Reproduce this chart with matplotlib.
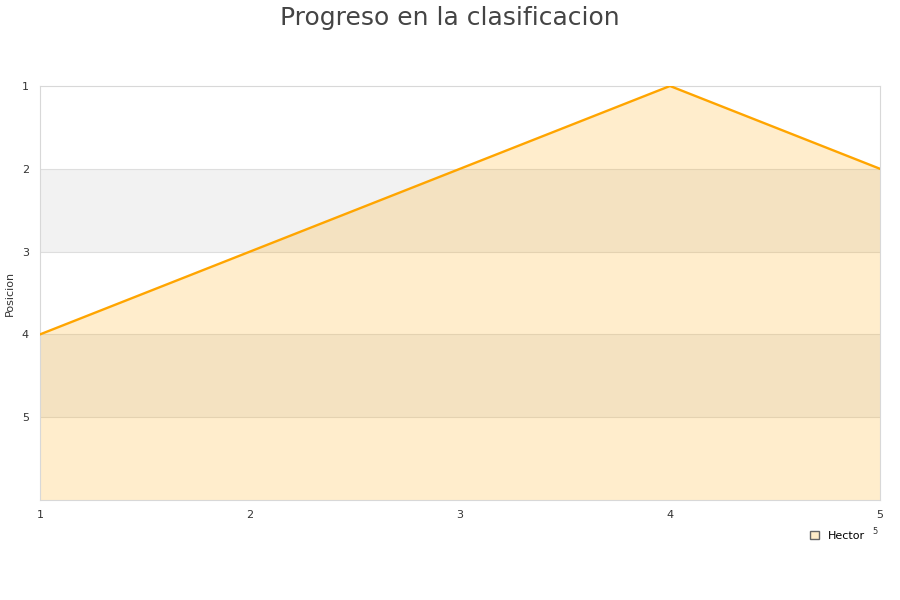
import matplotlib
matplotlib.use("Agg")
import matplotlib.pyplot as plt
from matplotlib.patches import Patch

# data
jornadas = [1, 2, 3, 4, 5]
posicion_hector = [4, 3, 2, 1, 2]
y_ticks = [1, 2, 3, 4, 5]
serie_nombre = "Hector"

LINE_COLOR = "#ffa500"
TEXT_COLOR = "#333333"
GRID_COLOR = "#dedede"
BAND_COLOR = "#f2f2f2"

fig = plt.figure(figsize=(9, 6), dpi=100, facecolor="white")
ax = fig.add_axes([40 / 900, 100 / 600, 840 / 900, 414 / 600])

ax.set_xlim(1, 5)
ax.set_ylim(6, 1)

# alternating bands
for lo in (2, 4):
    ax.axhspan(lo, lo + 1, color=BAND_COLOR, zorder=0, lw=0)

for y in [2, 3, 4, 5]:
    ax.axhline(y, color=GRID_COLOR, lw=0.8, zorder=1)

ax.fill_between(jornadas, posicion_hector, 6, color=LINE_COLOR,
                alpha=0.2, lw=0, zorder=2)
ax.plot(jornadas, posicion_hector, color=LINE_COLOR, lw=1.7, zorder=3)

ax.set_xticks(jornadas)
ax.set_yticks(y_ticks)
ax.tick_params(length=0, colors=TEXT_COLOR, labelsize=8, pad=7)
ax.tick_params(axis="y", pad=8)
for s in ax.spines.values():
    s.set_color("#d8d8d8")
    s.set_linewidth(0.8)

ax.set_ylabel("Posicion", fontsize=8, color=TEXT_COLOR, labelpad=5)

fig.suptitle("Progreso en la clasificacion", fontsize=18, color="#444444",
             y=0.99)

handles = [Patch(facecolor="#ffecc8", edgecolor="#666666", lw=1)]
fig.legend(handles, [serie_nombre], loc="center left",
           bbox_to_anchor=(800 / 900, 1 - 536 / 600), frameon=False,
           fontsize=8, handlelength=0.8, handleheight=0.8,
           handletextpad=0.8)
fig.text(875 / 900, 1 - 531 / 600, "5", fontsize=6, color=TEXT_COLOR,
         ha="center", va="center")

fig.savefig("out.png", dpi=100, facecolor="white")
